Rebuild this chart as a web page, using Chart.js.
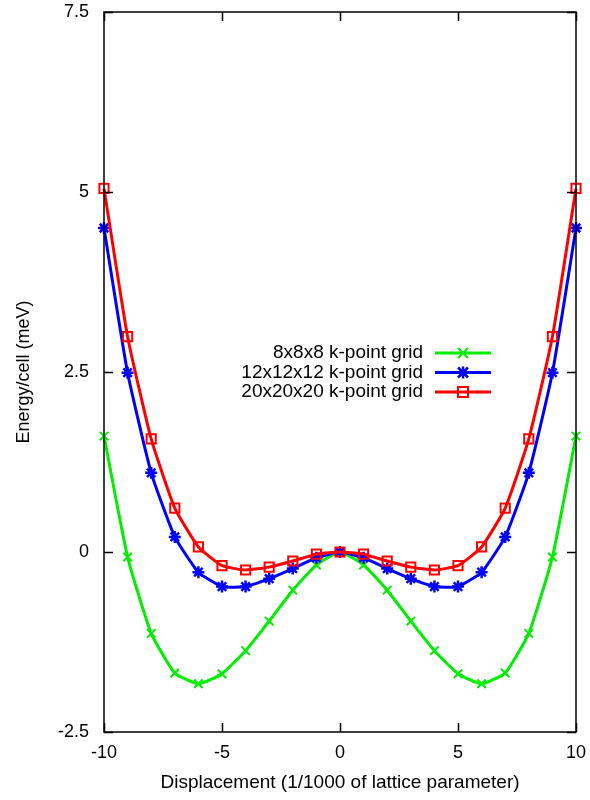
<!DOCTYPE html>
<html>
<head>
<meta charset="utf-8">
<title>Energy vs displacement</title>
<script src="https://cdn.jsdelivr.net/npm/chart.js"></script>
<style>
  html, body { margin: 0; padding: 0; background: #fff; }
  #wrap { width: 590px; height: 800px; }
</style>
</head>
<body>
<div id="wrap"><canvas id="grafico" width="590" height="800"></canvas></div>
<script>
// displacement in 1/1000 of the lattice parameter
const deslocamento = [-10, -9, -8, -7, -6, -5, -4, -3, -2, -1, 0, 1, 2, 3, 4, 5, 6, 7, 8, 9, 10];

// energy per cell (meV) for each k-point grid
const grade8 = [1.61, -0.07, -1.13, -1.68, -1.83, -1.69, -1.37, -0.96, -0.53, -0.18, 0,
                -0.18, -0.53, -0.96, -1.37, -1.69, -1.83, -1.68, -1.13, -0.07, 1.61];
const grade12 = [4.50, 2.49, 1.10, 0.21, -0.28, -0.48, -0.48, -0.37, -0.23, -0.08, 0,
                 -0.08, -0.23, -0.37, -0.48, -0.48, -0.28, 0.21, 1.10, 2.49, 4.50];
const grade20 = [5.05, 2.99, 1.57, 0.61, 0.07, -0.19, -0.25, -0.21, -0.125, -0.03, 0,
                 -0.03, -0.125, -0.21, -0.25, -0.19, 0.07, 0.61, 1.57, 2.99, 5.05];

const nomesSeries = ['8x8x8 k-point grid', '12x12x12 k-point grid', '20x20x20 k-point grid'];
const limitesX = [-10, 10];
const limitesY = [-2.5, 7.5];

const FONTE = '"Liberation Sans", Arial, Helvetica, sans-serif';

function pontos(valores) {
  return deslocamento.map((x, i) => ({ x: x, y: valores[i] }));
}

// gnuplot-like symbols for the key
function desenharMarcador(ctx, estilo, x, y, r) {
  ctx.beginPath();
  if (estilo === 'crossRot' || estilo === 'star') {
    ctx.moveTo(x - r, y - r); ctx.lineTo(x + r, y + r);
    ctx.moveTo(x - r, y + r); ctx.lineTo(x + r, y - r);
  }
  if (estilo === 'star') {
    ctx.moveTo(x - r * 1.2, y); ctx.lineTo(x + r * 1.2, y);
    ctx.moveTo(x, y - r * 1.2); ctx.lineTo(x, y + r * 1.2);
  }
  if (estilo === 'rect') {
    ctx.rect(x - r, y - r, 2 * r, 2 * r);
  }
  ctx.stroke();
}

// frame, inward mirrored ticks and the key drawn inside the plot
const molduraPlugin = {
  id: 'moldura',
  afterDatasetsDraw(chart) {
    const { ctx, chartArea: a, scales } = chart;
    const tam = 9;
    ctx.save();
    ctx.strokeStyle = '#000';
    ctx.lineWidth = 1.5;
    ctx.strokeRect(a.left, a.top, a.right - a.left, a.bottom - a.top);

    ctx.beginPath();
    scales.x.ticks.forEach(t => {
      const px = Math.round(scales.x.getPixelForValue(t.value)) + 0.5;
      ctx.moveTo(px, a.bottom); ctx.lineTo(px, a.bottom - tam);
      ctx.moveTo(px, a.top); ctx.lineTo(px, a.top + tam);
    });
    scales.y.ticks.forEach(t => {
      const py = Math.round(scales.y.getPixelForValue(t.value)) + 0.5;
      ctx.moveTo(a.left, py); ctx.lineTo(a.left + tam, py);
      ctx.moveTo(a.right, py); ctx.lineTo(a.right - tam, py);
    });
    ctx.stroke();

    // key
    const xTexto = 423, xIni = 435, xFim = 491, yIni = 353, passo = 19.5;
    ctx.font = '19px ' + FONTE;
    ctx.textAlign = 'right';
    ctx.textBaseline = 'middle';
    chart.data.datasets.forEach((ds, i) => {
      const y = yIni + i * passo;
      ctx.fillStyle = '#000';
      ctx.fillText(ds.label, xTexto, y);
      ctx.strokeStyle = ds.borderColor;
      ctx.lineWidth = ds.borderWidth;
      ctx.beginPath();
      ctx.moveTo(xIni, y); ctx.lineTo(xFim, y);
      ctx.stroke();
      ctx.lineWidth = ds.pointBorderWidth;
      desenharMarcador(ctx, ds.pointStyle, (xIni + xFim) / 2, y, 5);
    });
    ctx.restore();
  }
};

function gerarGrafico() {
  const ctx = document.getElementById('grafico').getContext('2d');

  window.grafico = new Chart(ctx, {
    type: 'line',
    data: {
      datasets: [
        {
          label: nomesSeries[0],
          data: pontos(grade8),
          borderColor: '#00ee00',
          borderWidth: 3,
          pointStyle: 'crossRot',
          pointRadius: 6,
          pointBorderWidth: 2,
          pointBackgroundColor: 'transparent',
          pointBorderColor: '#00ee00',
          tension: 0.15,
          clip: false,
          order: 3
        },
        {
          label: nomesSeries[1],
          data: pontos(grade12),
          borderColor: '#0000ff',
          borderWidth: 3,
          pointStyle: 'star',
          pointRadius: 6,
          pointBorderWidth: 2.5,
          pointBackgroundColor: 'transparent',
          pointBorderColor: '#0000ff',
          tension: 0.15,
          clip: false,
          order: 2
        },
        {
          label: nomesSeries[2],
          data: pontos(grade20),
          borderColor: '#ff0000',
          borderWidth: 3,
          pointStyle: 'rect',
          pointRadius: 6.5,
          pointBorderWidth: 2,
          pointBackgroundColor: 'transparent',
          pointBorderColor: '#ff0000',
          tension: 0.15,
          clip: false,
          order: 1
        }
      ]
    },
    options: {
      responsive: false,
      animation: false,
      layout: { padding: { left: 0, top: 12, right: 14, bottom: 0 } },
      plugins: {
        legend: { display: false },
        tooltip: { enabled: false }
      },
      scales: {
        x: {
          type: 'linear',
          min: limitesX[0],
          max: limitesX[1],
          grid: { display: false, drawTicks: false },
          border: { display: false },
          ticks: {
            stepSize: 5,
            color: '#000',
            padding: 10,
            maxRotation: 0,
            font: { family: FONTE, size: 18 }
          },
          title: {
            display: true,
            text: 'Displacement (1/1000 of lattice parameter)',
            color: '#000',
            font: { family: FONTE, size: 19 },
            padding: { top: 0, bottom: 6 }
          },
          afterFit(scale) {
            scale.height = 68;
            scale.paddingLeft = 0;
            scale.paddingRight = 0;
          }
        },
        y: {
          min: limitesY[0],
          max: limitesY[1],
          grid: { display: false, drawTicks: false },
          border: { display: false },
          ticks: {
            stepSize: 2.5,
            color: '#000',
            padding: 15,
            font: { family: FONTE, size: 18 }
          },
          title: {
            display: true,
            text: 'Energy/cell (meV)',
            color: '#000',
            font: { family: FONTE, size: 18 },
            padding: { top: 13, bottom: 0 }
          },
          afterFit(scale) {
            scale.width = 104;
            scale.paddingTop = 0;
            scale.paddingBottom = 0;
          }
        }
      }
    },
    plugins: [molduraPlugin]
  });
}

document.addEventListener('DOMContentLoaded', gerarGrafico);
</script>
</body>
</html>
